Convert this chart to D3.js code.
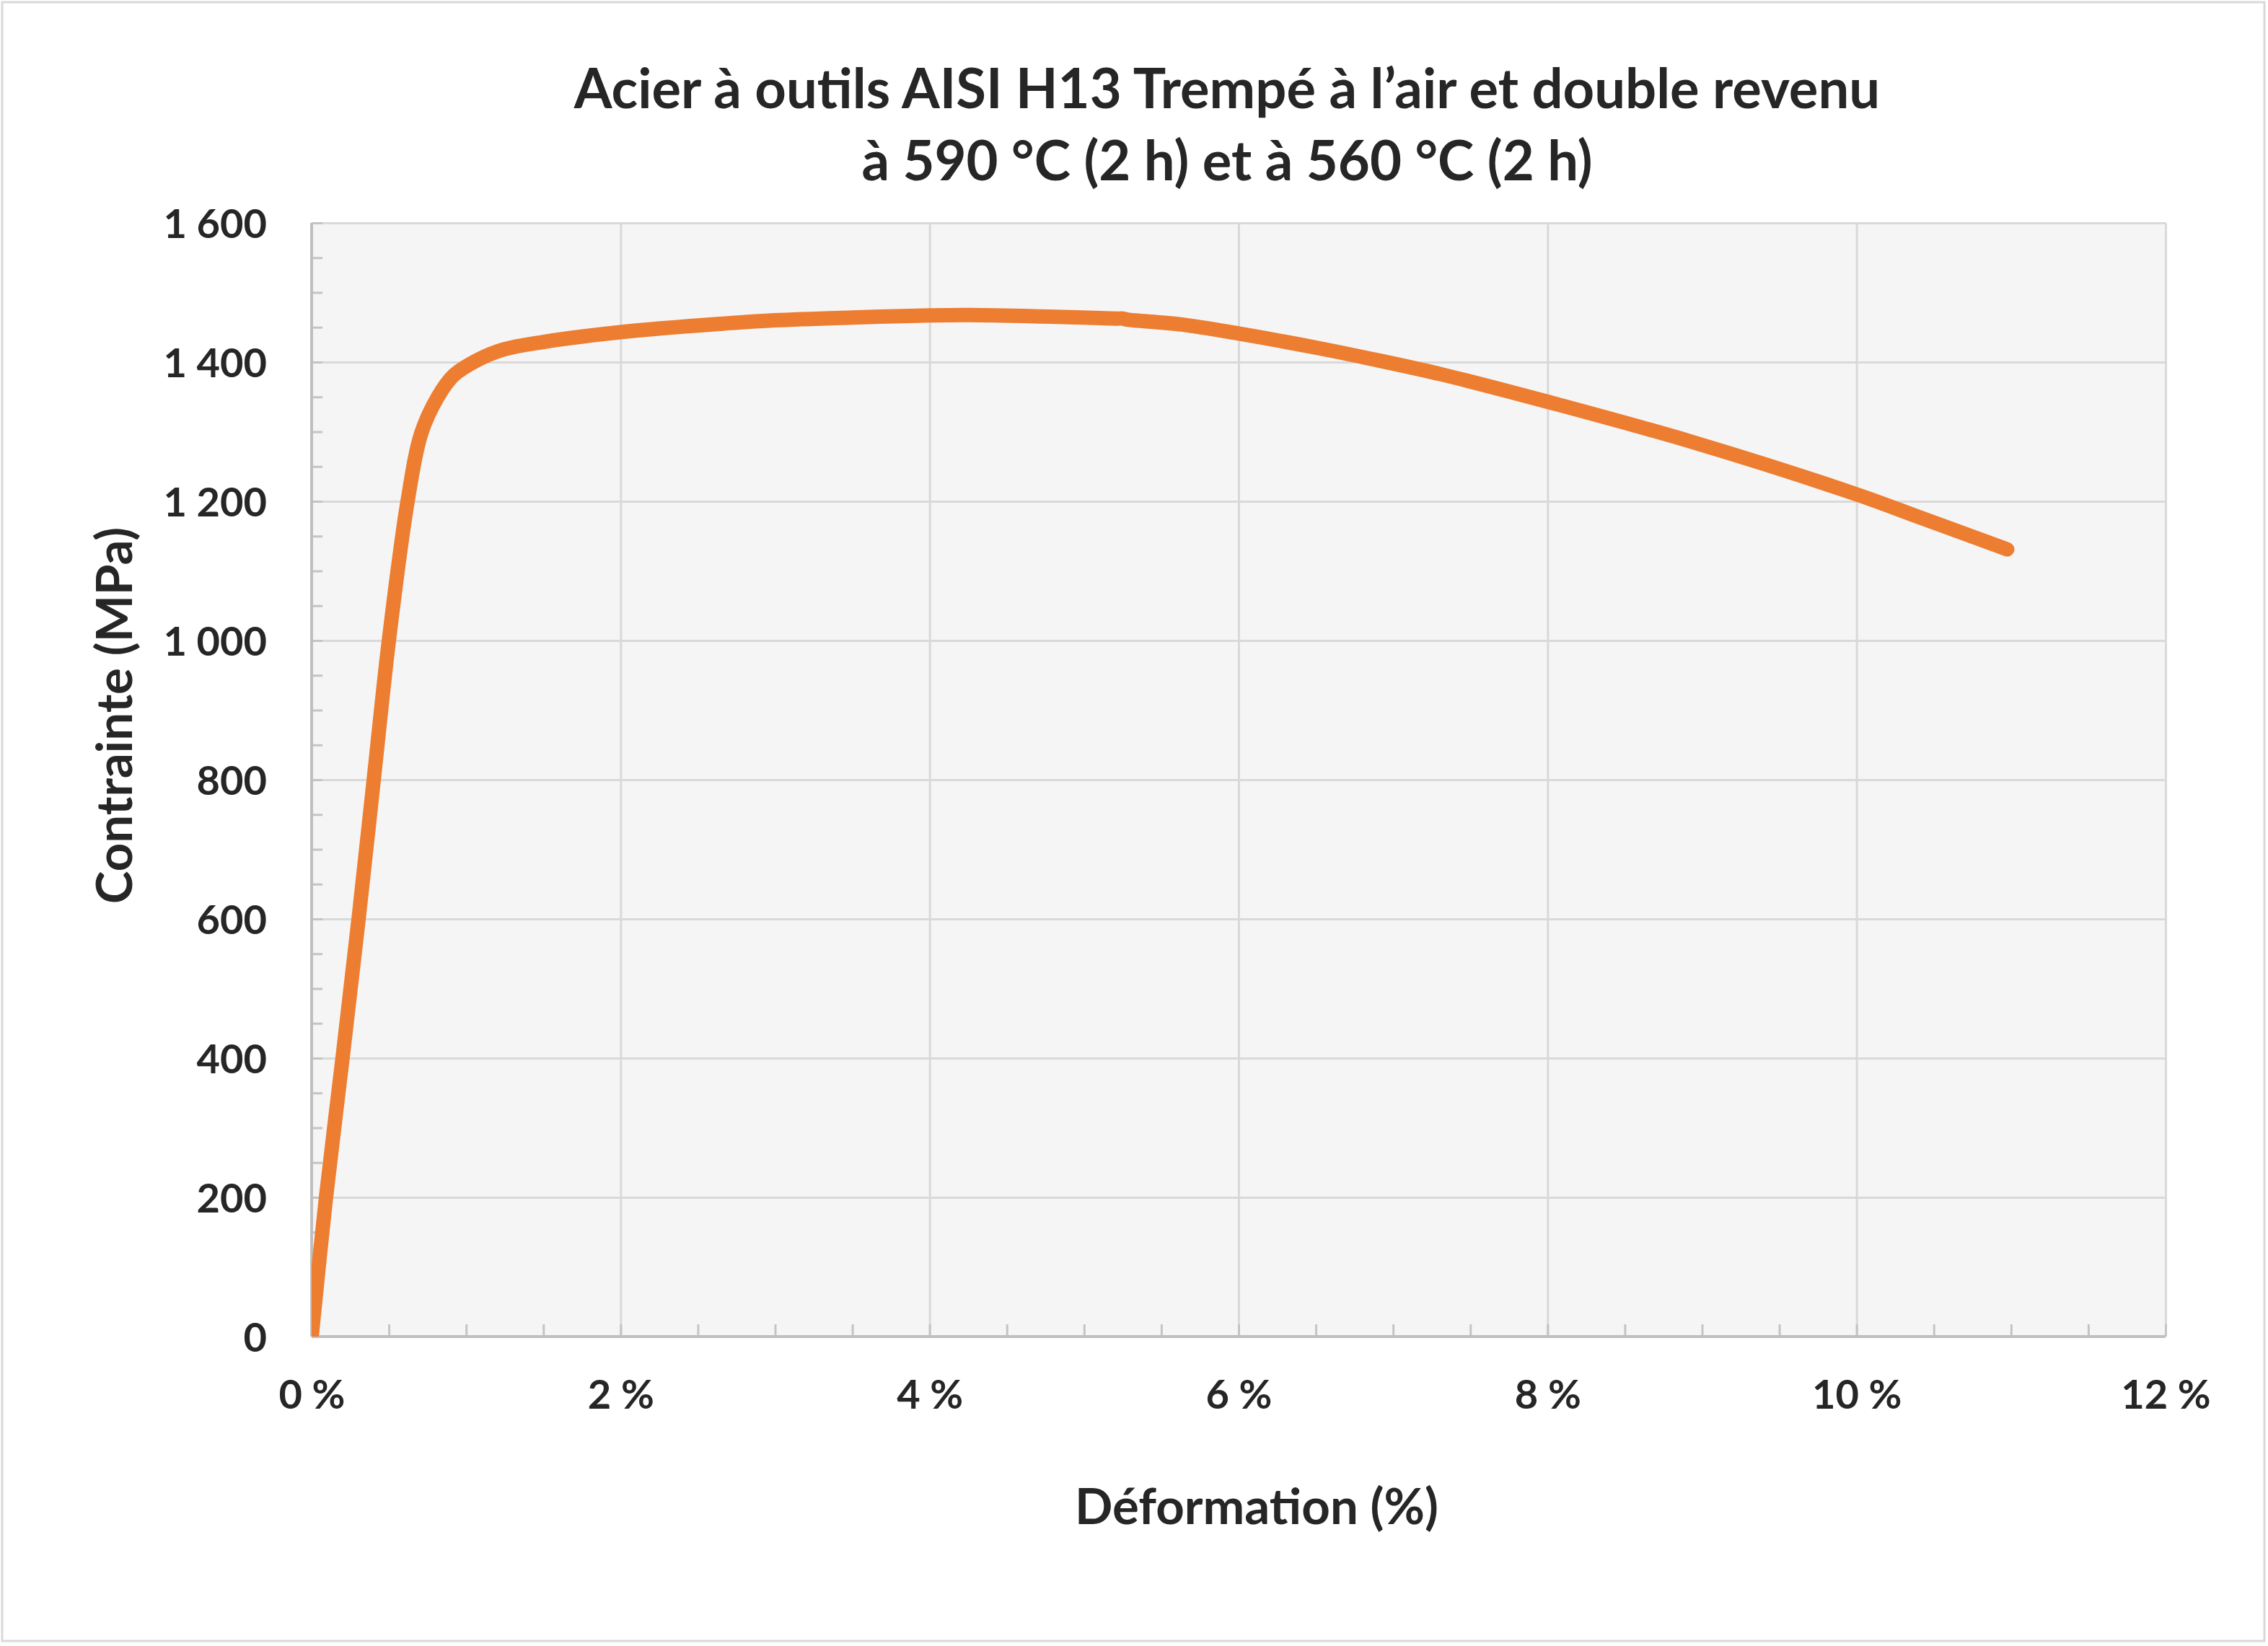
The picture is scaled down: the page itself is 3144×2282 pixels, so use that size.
<!DOCTYPE html>
<html>
<head>
<meta charset="utf-8">
<script src="https://cdn.jsdelivr.net/npm/d3@7"></script>
<style>
  html, body { margin: 0; padding: 0; background: #ffffff; }
  svg { display: block; }
  text { font-family: Lato, "Open Sans", sans-serif; font-weight: 700; fill: #262626; }
</style>
</head>
<body>
<svg id="chart" width="3144" height="2282"></svg>
<script>
// ---- Data ----
const strainPct = [0, 0.093, 0.200, 0.304, 0.402, 0.500, 0.621, 0.710, 0.817, 0.920, 1.065, 1.24, 1.50, 2.0, 2.65, 3.0, 3.5, 4.0, 4.26, 4.73, 5.21, 5.25, 5.28, 5.63, 6.0, 6.52, 6.85, 7.32, 8.0, 8.94, 10.0, 10.42, 10.975];
const stressMPa = [0, 200, 400, 600, 800, 1000, 1200, 1298, 1350, 1381, 1402, 1418, 1429, 1443, 1455, 1460, 1464, 1467, 1467.5, 1465.5, 1462.5, 1462.5, 1461, 1454, 1441, 1420, 1405, 1382, 1343, 1285, 1210, 1176, 1131];
const yTicks = [0, 200, 400, 600, 800, 1000, 1200, 1400, 1600];
const xTicks = [0, 2, 4, 6, 8, 10, 12];
const titleLines = ["Acier à outils AISI H13 Trempé à l’air et double revenu", "à 590 °C (2 h) et à 560 °C (2 h)"];
const xTitle = "Déformation (%)";
const yTitle = "Contrainte (MPa)";

// ---- Layout ----
const W = 3144, H = 2282;
const plot = { left: 432, top: 309, right: 3002, bottom: 1853 };
const svg = d3.select("#chart");

// outer frame
svg.append("rect").attr("x", 3).attr("y", 3).attr("width", W - 8).attr("height", H - 10)
  .attr("fill", "#ffffff").attr("stroke", "#d9d9d9").attr("stroke-width", 3);

const x = d3.scaleLinear().domain([0, 12]).range([plot.left, plot.right]);
const y = d3.scaleLinear().domain([0, 1600]).range([plot.bottom, plot.top]);

// plot background
svg.append("rect").attr("x", plot.left).attr("y", plot.top)
  .attr("width", plot.right - plot.left).attr("height", plot.bottom - plot.top)
  .attr("fill", "#f5f5f5");

// gridlines
const gx = svg.append("g").attr("transform", `translate(0,${plot.bottom})`)
  .call(d3.axisBottom(x).tickValues(xTicks).tickSize(-(plot.bottom - plot.top)).tickFormat(""));
const gy = svg.append("g").attr("transform", `translate(${plot.left},0)`)
  .call(d3.axisLeft(y).tickValues(yTicks).tickSize(-(plot.right - plot.left)).tickFormat(""));
[gx, gy].forEach(g => {
  g.select(".domain").remove();
  g.selectAll(".tick line").attr("stroke", "#d9d9d9").attr("stroke-width", 3);
});

// minor ticks (inside)
const mx = svg.append("g").attr("transform", `translate(0,${plot.bottom})`)
  .call(d3.axisTop(x).tickValues(d3.range(0, 12.01, 0.5)).tickSize(17).tickFormat(""));
const my = svg.append("g").attr("transform", `translate(${plot.left},0)`)
  .call(d3.axisRight(y).tickValues(d3.range(0, 1601, 50)).tickSize(15).tickFormat(""));
[mx, my].forEach(g => {
  g.select(".domain").remove();
  g.selectAll(".tick line").attr("stroke", "#c4c4c4").attr("stroke-width", 3);
});

// axis lines
svg.append("line").attr("x1", plot.left).attr("x2", plot.left).attr("y1", plot.top).attr("y2", plot.bottom)
  .attr("stroke", "#bfbfbf").attr("stroke-width", 4);
svg.append("line").attr("x1", plot.left).attr("x2", plot.right).attr("y1", plot.bottom).attr("y2", plot.bottom)
  .attr("stroke", "#bfbfbf").attr("stroke-width", 4);

// tick labels
const fmtY = v => v >= 1000 ? Math.floor(v / 1000) + " " + String(v % 1000).padStart(3, "0") : String(v);
const ly = svg.append("g").attr("transform", `translate(${plot.left},0)`)
  .call(d3.axisLeft(y).tickValues(yTicks).tickSize(0).tickPadding(62).tickFormat(fmtY));
ly.select(".domain").remove();
ly.selectAll("text").attr("font-size", 56).attr("dy", "0.36em").attr("fill", "#262626");

const lx = svg.append("g").attr("transform", `translate(0,${plot.bottom})`)
  .call(d3.axisBottom(x).tickValues(xTicks).tickSize(0).tickPadding(60).tickFormat(d => d + " %"));
lx.select(".domain").remove();
lx.selectAll("text").attr("font-size", 56).attr("dy", "0.71em").attr("fill", "#262626");

// data line
svg.append("clipPath").attr("id", "plotClip").append("rect")
  .attr("x", plot.left).attr("y", plot.top)
  .attr("width", plot.right - plot.left).attr("height", plot.bottom - plot.top);

const data = strainPct.map((s, i) => ({ s, v: stressMPa[i] }));
const line = d3.line().x(d => x(d.s)).y(d => y(d.v)).curve(d3.curveCatmullRom.alpha(0.5));
svg.append("path").datum(data).attr("d", line)
  .attr("clip-path", "url(#plotClip)")
  .attr("fill", "none").attr("stroke", "#ed7d31").attr("stroke-width", 20)
  .attr("stroke-linecap", "round").attr("stroke-linejoin", "round");

// titles
svg.append("text").attr("x", 1701).attr("y", 150).attr("text-anchor", "middle")
  .attr("font-size", 76).text(titleLines[0]);
svg.append("text").attr("x", 1701).attr("y", 250).attr("text-anchor", "middle")
  .attr("font-size", 76).text(titleLines[1]);

svg.append("text").attr("x", 1742).attr("y", 2113).attr("text-anchor", "middle")
  .attr("font-size", 69).text(xTitle);

svg.append("text").attr("transform", `translate(183,992) rotate(-90)`).attr("text-anchor", "middle")
  .attr("font-size", 69).text(yTitle);
</script>
</body>
</html>
